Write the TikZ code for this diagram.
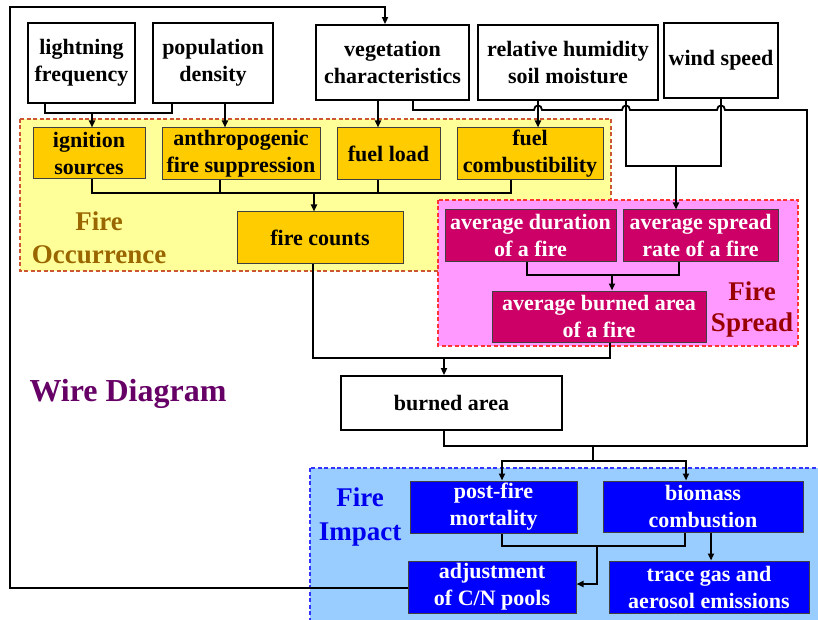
\documentclass[tikz,border=0pt]{standalone}
\usepackage{fontspec}
\setmainfont{Liberation Serif}
\usetikzlibrary{arrows.meta}

\definecolor{occfill}{HTML}{FFFF99}
\definecolor{occline}{HTML}{CC5533}
\definecolor{occbox}{HTML}{FFCC00}
\definecolor{occtext}{HTML}{996600}
\definecolor{sprfill}{HTML}{FF99FF}
\definecolor{sprline}{HTML}{FF3333}
\definecolor{sprbox}{HTML}{CC0066}
\definecolor{sprtext}{HTML}{990000}
\definecolor{impfill}{HTML}{99CCFF}
\definecolor{impline}{HTML}{3333FF}
\definecolor{impbox}{HTML}{0000FF}
\definecolor{imptext}{HTML}{0000EE}
\definecolor{wiretext}{HTML}{660066}

\begin{document}
\begin{tikzpicture}[x=1pt,y=1pt,yscale=-1,
    wire/.style={line width=1.8pt},
    arr/.style={wire,-{Triangle[length=7pt,width=6pt]}},
    box/.style={draw,line width=1.8pt,fill=white,align=center,inner sep=0pt,
        font=\fontsize{22}{27}\selectfont\bfseries},
    ybox/.style={box,line width=1pt,draw=black!75,fill=occbox},
    pbox/.style={box,line width=1pt,draw=black!75,fill=sprbox,text=white},
    bbox/.style={box,line width=1pt,draw=black!75,fill=impbox,text=white},
    area/.style={line width=1.2pt,dash pattern=on 4pt off 2.5pt},
    tag/.style={align=center,inner sep=0pt,font=\fontsize{27}{33}\selectfont\bfseries}]
    \clip (0,0) rectangle (818,620);

    % regions
    \filldraw[area,fill=occfill,draw=occline] (20,119) rectangle (611,271);
    \filldraw[area,fill=sprfill,draw=sprline] (438,200) rectangle (798,346);
    \filldraw[area,fill=impfill,draw=impline] (310,468) rectangle (824,626);

    % region titles
    \node[tag,text=occtext] (occ) at (99,238) {Fire\\Occurrence};
    \node[tag,text=sprtext,font=\fontsize{27}{31}\selectfont\bfseries] (spr) at (752,310) {Fire\\Spread};
    \node[tag,text=imptext,font=\fontsize{27}{34}\selectfont\bfseries] (imp) at (360,517) {Fire\\Impact};
    \node[tag,text=wiretext,font=\fontsize{32}{38}\selectfont\bfseries] (title) at (128,394) {Wire Diagram};

    % driver boxes
    \node[box,minimum width=107pt,minimum height=80pt] (light) at (81.5,63) {lightning\\frequency};
    \node[box,minimum width=120pt,minimum height=80pt] (popd) at (213,63) {population\\density};
    \node[box,minimum width=153pt,minimum height=75pt] (veg) at (392.5,62.5) {vegetation\\characteristics};
    \node[box,minimum width=180pt,minimum height=75pt] (rhsm) at (568,62.5) {relative humidity\\soil moisture};
    \node[box,minimum width=114pt,minimum height=75pt] (wind) at (721,60.5) {wind speed};

    % fire occurrence
    \node[ybox,minimum width=112pt,minimum height=51pt] (ign) at (89,153.5) {ignition\\sources};
    \node[ybox,minimum width=158pt,minimum height=52pt] (anth) at (241,154) {anthropogenic\\fire suppression};
    \node[ybox,minimum width=103pt,minimum height=52pt] (fload) at (388.5,154) {fuel load};
    \node[ybox,minimum width=146pt,minimum height=52pt] (fcomb) at (530,154) {fuel\\combustibility};
    \node[ybox,minimum width=166pt,minimum height=51pt] (fcount) at (320,237.5) {fire counts};

    % fire spread
    \node[pbox,minimum width=171pt,minimum height=51pt] (adur) at (530.5,235.5) {average duration\\of a fire};
    \node[pbox,minimum width=155pt,minimum height=51pt] (aspr) at (700.5,235.5) {average spread\\rate of a fire};
    \node[pbox,minimum width=214pt,minimum height=51pt] (aba) at (599,316.5) {average burned area\\of a fire};

    \node[box,minimum width=221pt,minimum height=54pt] (barea) at (451.5,403) {burned area};

    % fire impact
    \node[bbox,minimum width=167pt,minimum height=52pt] (mort) at (493.5,507) {post-fire\\mortality};
    \node[bbox,minimum width=200pt,minimum height=51pt] (biom) at (703,506.5) {biomass\\combustion};
    \node[bbox,minimum width=168pt,minimum height=52pt] (adj) at (492,587) {adjustment\\of C/N pools};
    \node[bbox,minimum width=200pt,minimum height=52pt] (trace) at (709,587) {trace gas and\\aerosol emissions};

    % drivers to occurrence
    \draw[wire] (45,0 |- light.south) |- (172,113) -- (172,0 |- popd.south);
    \draw[arr] (92,113) -- (92,0 |- ign.north);
    \draw[arr] (225,0 |- popd.south) -- (225,0 |- anth.north);
    \draw[arr] (378,0 |- veg.south) -- (378,0 |- fload.north);
    \draw[arr] (538,0 |- rhsm.south) -- (538,0 |- fcomb.north);

    % occurrence to fire counts
    \draw[wire] (92,0 |- ign.south) |- (511,193) -- (511,0 |- fcomb.south);
    \draw[wire] (220,0 |- anth.south) -- (220,193);
    \draw[wire] (378,0 |- fload.south) -- (378,193);
    \draw[arr] (314,193) -- (314,0 |- fcount.north);

    % spread
    \draw[wire] (626,0 |- rhsm.south) |- (721,166) -- (721,0 |- wind.south);
    \draw[arr] (676,166) -- (676,0 |- aspr.north);
    \draw[wire] (527,0 |- adur.south) |- (679,275) -- (679,0 |- aspr.south);
    \draw[arr] (612,275) -- (612,0 |- aba.north);

    % to burned area
    \draw[wire] (313,0 |- fcount.south) |- (610,358) -- (610,0 |- aba.south);
    \draw[arr] (444,358) -- (444,0 |- barea.north);

    % burned area back to vegetation
    \draw[wire] (444,0 |- barea.south) |- (807,446) -- (807,110) -- (725,110)
        .. controls (725,104) and (717,104) .. (717,110) -- (630,110)
        .. controls (630,104) and (622,104) .. (622,110) -- (542,110)
        .. controls (542,104) and (534,104) .. (534,110) -- (413,110) -- (413,0 |- veg.south);

    % burned area to impact
    \draw[wire] (593,446) -- (593,461);
    \draw[arr] (593,461) -| (502,0 |- mort.north);
    \draw[arr] (593,461) -| (686,0 |- biom.north);
    \draw[wire] (502,0 |- mort.south) |- (685,546) -- (685,0 |- biom.south);
    \draw[arr] (597,546) |- (adj.east |- 0,584);
    \draw[arr] (711,0 |- biom.south) -- (711,0 |- trace.north);

    % C/N pools back to vegetation
    \draw[arr] (adj.west |- 0,588) -- (10,588) -- (10,7) -| (385,0 |- veg.north);
\end{tikzpicture}
\end{document}
